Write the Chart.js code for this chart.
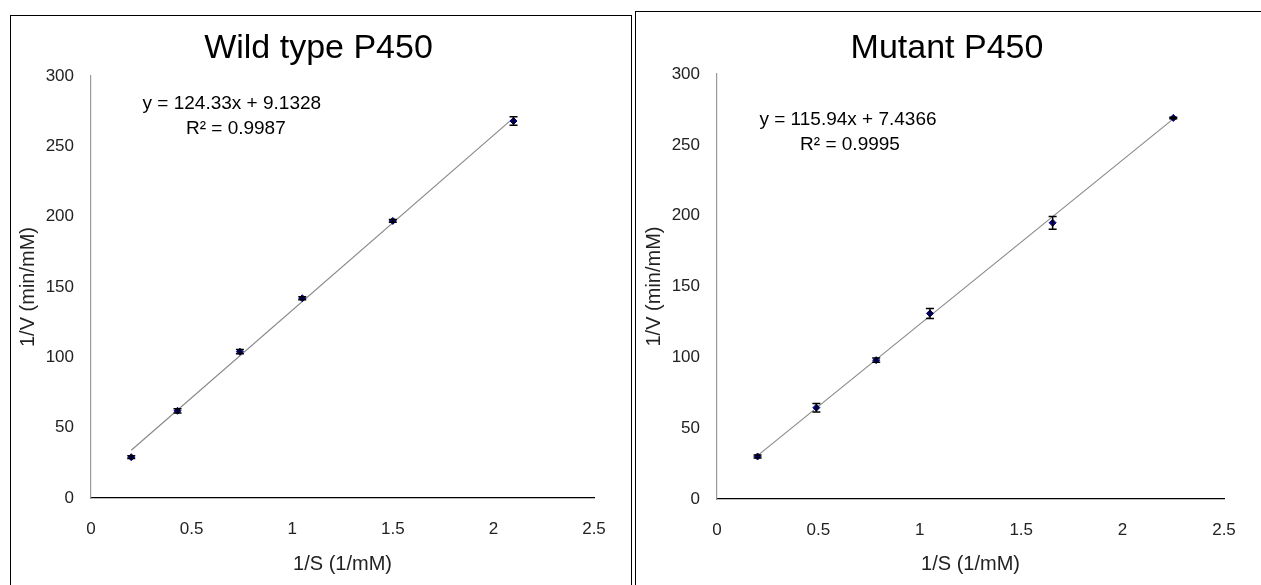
<!DOCTYPE html>
<html>
<head>
<meta charset="utf-8">
<script src="https://cdn.jsdelivr.net/npm/chart.js@4"></script>
<style>
  html, body { margin: 0; padding: 0; background: #fff; }
  body { width: 1261px; height: 585px; position: relative; overflow: hidden; }
  .panel { position: absolute; border: 1px solid #000; background: #fff; }
  #panelWild { left: 10px; top: 15px; width: 620px; height: 600px; }
  #panelMut { left: 635px; top: 11px; width: 640px; height: 600px; }
  canvas { display: block; }
</style>
</head>
<body>
<div class="panel" id="panelWild"><canvas id="chartWild" width="620" height="569"></canvas></div>
<div class="panel" id="panelMut"><canvas id="chartMut" width="625" height="573"></canvas></div>

<script>
// Wild type P450 (Lineweaver-Burk)
var wildX = [0.2, 0.43, 0.74, 1.05, 1.5, 2.1];
var wildY = [29, 62, 104, 142, 197, 268];
var wildErr = [1, 1.5, 1.5, 1, 1, 3];
var wildSlope = 124.33;
var wildIntercept = 9.1328;
var wildEq = ["y = 124.33x + 9.1328", "R² = 0.9987"];

// Mutant P450
var mutX = [0.2, 0.49, 0.785, 1.05, 1.655, 2.25];
var mutY = [30, 64.5, 98, 131, 195, 269];
var mutErr = [1, 3, 1.5, 3.5, 4.5, 0.5];
var mutSlope = 115.94;
var mutIntercept = 7.4366;
var mutEq = ["y = 115.94x + 7.4366", "R² = 0.9995"];

var xTicks = [0, 0.5, 1, 1.5, 2, 2.5];
var yTicks = [0, 50, 100, 150, 200, 250, 300];

var FONT = "'Liberation Sans', Arial, sans-serif";

// error bars + trendline equation, drawn with the chart scales
var errorBarPlugin = {
  id: "errorBars",
  afterDatasetsDraw: function (chart) {
    var ctx = chart.ctx;
    var xs = chart.scales.x, ys = chart.scales.y;
    chart.data.datasets.forEach(function (ds) {
      if (!ds.errors) return;
      ctx.save();
      ctx.strokeStyle = "#000";
      ctx.lineWidth = 1.5;
      ds.data.forEach(function (p, i) {
        var e = ds.errors[i];
        var px = xs.getPixelForValue(p.x);
        var top = ys.getPixelForValue(p.y + e);
        var bot = ys.getPixelForValue(p.y - e);
        ctx.beginPath();
        ctx.moveTo(px, top); ctx.lineTo(px, bot);
        ctx.moveTo(px - 4, top); ctx.lineTo(px + 4, top);
        ctx.moveTo(px - 4, bot); ctx.lineTo(px + 4, bot);
        ctx.stroke();
      });
      ctx.restore();
    });
    var eq = chart.options.plugins.equation;
    if (eq) {
      ctx.save();
      ctx.fillStyle = "#000";
      ctx.font = "19px " + FONT;
      ctx.textAlign = "center";
      ctx.textBaseline = "middle";
      var ex = xs.getPixelForValue(eq.x);
      var ey = ys.getPixelForValue(eq.y);
      ctx.fillText(eq.lines[0], ex, ey);
      ctx.fillText(eq.lines[1], ex + eq.dx, ey + 25);
      ctx.restore();
    }
  }
};

function makeChart(id, title, xs, ys, errs, slope, intercept, eqLines, eqPos, lay) {
  var pts = xs.map(function (x, i) { return { x: x, y: ys[i] }; });
  var x0 = xs[0], x1 = xs[xs.length - 1];
  var trend = [
    { x: x0, y: slope * x0 + intercept },
    { x: x1, y: slope * x1 + intercept }
  ];
  var titleSize = 34;
  var titleLH = titleSize * 1.2;
  var axisLH = 20 * 1.2;

  return new Chart(document.getElementById(id), {
    type: "scatter",
    data: {
      datasets: [
        {
          label: "data",
          data: pts,
          errors: errs,
          pointStyle: "rectRot",
          pointRadius: 3.5,
          backgroundColor: "#00007a",
          borderColor: "#00007a",
          borderWidth: 1,
          order: 0
        },
        {
          label: "trend",
          type: "line",
          data: trend,
          borderColor: "#8a8a8a",
          borderWidth: 1.2,
          pointRadius: 0,
          fill: false,
          order: 1
        }
      ]
    },
    options: {
      responsive: false,
      animation: false,
      events: [],
      layout: { padding: { left: lay.padLeft, right: lay.padRight, top: 0, bottom: 0 } },
      plugins: {
        legend: { display: false },
        tooltip: { enabled: false },
        title: {
          display: true,
          text: title,
          color: "#000",
          font: { family: FONT, size: titleSize, weight: "normal" },
          padding: { top: lay.titleY - titleLH / 2, bottom: lay.plotTop - lay.titleY - titleLH / 2 }
        },
        equation: { lines: eqLines, x: eqPos[0], y: eqPos[1], dx: eqPos[2] }
      },
      scales: {
        x: {
          type: "linear",
          min: 0,
          max: 2.5,
          afterBuildTicks: function (s) { s.ticks = xTicks.map(function (v) { return { value: v }; }); },
          grid: { display: false },
          border: { display: true, color: "#000", width: 1.2 },
          ticks: {
            color: "#222",
            font: { family: FONT, size: 17 },
            padding: 13,
            maxRotation: 0,
            callback: function (v) { return String(v); }
          },
          title: {
            display: true,
            text: "1/S (1/mM)",
            color: "#222",
            font: { family: FONT, size: 20 },
            padding: { top: 0, bottom: lay.xTitlePad }
          },
          afterFit: function (s) { s.height = lay.xAxisH; }
        },
        y: {
          type: "linear",
          min: 0,
          max: 300,
          afterBuildTicks: function (s) { s.ticks = yTicks.map(function (v) { return { value: v }; }); },
          grid: { display: false },
          border: { display: true, color: "#999", width: 1.2 },
          ticks: { color: "#222", font: { family: FONT, size: 17 }, padding: 9 },
          title: {
            display: true,
            text: "1/V (min/mM)",
            color: "#222",
            font: { family: FONT, size: 20 },
            // axis title sits left of the padded area
            padding: { top: lay.yTitleX - lay.padLeft - axisLH / 2, bottom: 0 }
          },
          afterFit: function (s) { s.width = lay.plotLeft - lay.padLeft; }
        }
      }
    },
    plugins: [errorBarPlugin]
  });
}

makeChart("chartWild", "Wild type P450", wildX, wildY, wildErr, wildSlope, wildIntercept,
  wildEq, [0.70, 280, 4],
  { padLeft: 32, padRight: 37, plotLeft: 80, titleY: 33, plotTop: 60, xAxisH: 87,
    yTitleX: 17.5, xTitlePad: 9 });

makeChart("chartMut", "Mutant P450", mutX, mutY, mutErr, mutSlope, mutIntercept,
  mutEq, [0.646, 267.5, 2],
  { padLeft: 34, padRight: 37, plotLeft: 81, titleY: 37, plotTop: 62, xAxisH: 86,
    yTitleX: 18, xTitlePad: 9 });
</script>
</body>
</html>
